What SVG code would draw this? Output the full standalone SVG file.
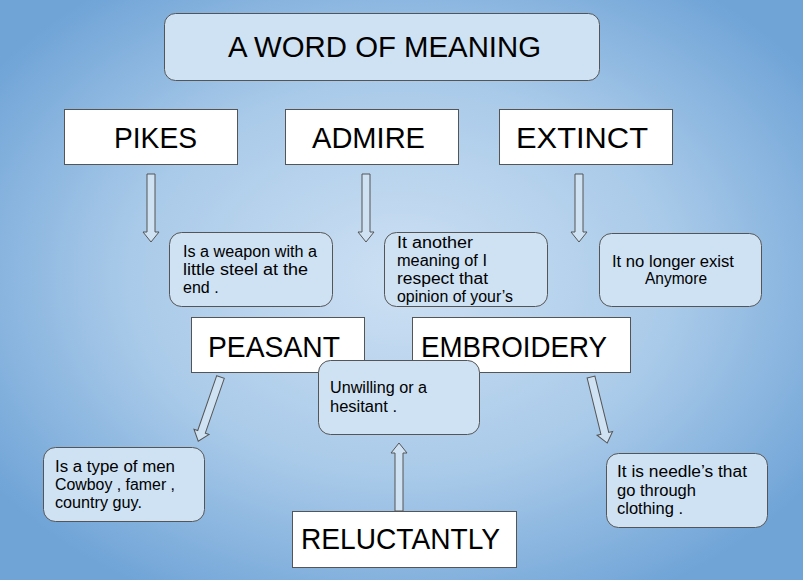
<svg xmlns="http://www.w3.org/2000/svg" width="803" height="580" viewBox="0 0 803 580">
<defs>
<radialGradient id="bg" cx="50%" cy="48%" r="62%">
<stop offset="0" stop-color="#cde0f3"/>
<stop offset="0.55" stop-color="#a9cae9"/>
<stop offset="1" stop-color="#70a4d7"/>
</radialGradient>
<polygon id="arr" points="-4,0 4,0 4,58 8,58 0,68 -8,58 -4,58"/>
</defs>
<style>
.word{fill:#ffffff;stroke:#555;stroke-width:1}
.def{fill:#cfe2f3;stroke:#555;stroke-width:1}
.big{font-family:"Liberation Sans",Arial,sans-serif;font-size:30px;fill:#000}
.sm{font-family:"Liberation Sans",Arial,sans-serif;font-size:16px;fill:#000}
.ar{fill:#cfe2f3;stroke:#555;stroke-width:1}
</style>
<rect x="0" y="0" width="803" height="580" fill="url(#bg)"/>
<g id="title">
<rect class="def" x="164.5" y="13.5" width="435" height="67" rx="11"/>
<text class="big" x="228" y="57" font-size="28" textLength="313" lengthAdjust="spacingAndGlyphs">A WORD OF MEANING</text>
</g>
<g id="connectors">
<use href="#arr" class="ar" transform="translate(151,174)"/>
<use href="#arr" class="ar" transform="translate(366,174)"/>
<use href="#arr" class="ar" transform="translate(579,174)"/>
<use href="#arr" class="ar" transform="translate(220.5,377) rotate(19.1)"/>
<use href="#arr" class="ar" transform="translate(591,377) rotate(-13.8)"/>
<use href="#arr" class="ar" transform="translate(399,511) rotate(180)"/>
</g>
<g id="pikes">
<rect class="word" x="64.5" y="109.5" width="173" height="55"/>
<text class="big" x="114" y="148" textLength="83" lengthAdjust="spacingAndGlyphs">PIKES</text>
</g>
<g id="admire">
<rect class="word" x="285.5" y="109.5" width="173" height="55"/>
<text class="big" x="312" y="148" textLength="113" lengthAdjust="spacingAndGlyphs">ADMIRE</text>
</g>
<g id="extinct">
<rect class="word" x="499.5" y="109.5" width="173" height="55"/>
<text class="big" x="516" y="148" textLength="132" lengthAdjust="spacingAndGlyphs">EXTINCT</text>
</g>
<g id="pikes-def">
<rect class="def" x="169.5" y="232.5" width="163" height="74" rx="12"/>
<text class="sm" x="183" y="257" textLength="134" lengthAdjust="spacingAndGlyphs">Is a weapon with a</text>
<text class="sm" x="183" y="275" textLength="125" lengthAdjust="spacingAndGlyphs">little steel at the</text>
<text class="sm" x="183" y="293">end .</text>
</g>
<g id="admire-def">
<rect class="def" x="384.5" y="232.5" width="163" height="74" rx="12"/>
<text class="sm" x="397" y="248" textLength="76" lengthAdjust="spacingAndGlyphs">It another</text>
<text class="sm" x="397" y="266" textLength="90" lengthAdjust="spacingAndGlyphs">meaning of I</text>
<text class="sm" x="397" y="284" textLength="91" lengthAdjust="spacingAndGlyphs">respect that</text>
<text class="sm" x="397" y="302" textLength="116" lengthAdjust="spacingAndGlyphs">opinion of your’s</text>
</g>
<g id="extinct-def">
<rect class="def" x="599.5" y="233.5" width="162" height="73" rx="12"/>
<text class="sm" x="612" y="267" textLength="122" lengthAdjust="spacingAndGlyphs">It no longer exist</text>
<text class="sm" x="645" y="284" textLength="62" lengthAdjust="spacingAndGlyphs">Anymore</text>
</g>
<g id="peasant">
<rect class="word" x="191.5" y="317.5" width="173" height="55"/>
<text class="big" x="208" y="357" textLength="132" lengthAdjust="spacingAndGlyphs">PEASANT</text>
</g>
<g id="embroidery">
<rect class="word" x="412.5" y="317.5" width="218" height="55"/>
<text class="big" x="421" y="357" textLength="186" lengthAdjust="spacingAndGlyphs">EMBROIDERY</text>
</g>
<g id="reluctantly-def">
<rect class="def" x="318.5" y="360.5" width="161" height="74" rx="12"/>
<text class="sm" x="330" y="393" textLength="97" lengthAdjust="spacingAndGlyphs">Unwilling or a</text>
<text class="sm" x="330" y="412" textLength="67" lengthAdjust="spacingAndGlyphs">hesitant .</text>
</g>
<g id="peasant-def">
<rect class="def" x="43.5" y="447.5" width="161" height="74" rx="12"/>
<text class="sm" x="55" y="472" textLength="120" lengthAdjust="spacingAndGlyphs">Is a type of men</text>
<text class="sm" x="55" y="490" textLength="120" lengthAdjust="spacingAndGlyphs">Cowboy , famer ,</text>
<text class="sm" x="55" y="508" textLength="87" lengthAdjust="spacingAndGlyphs">country guy.</text>
</g>
<g id="embroidery-def">
<rect class="def" x="606.5" y="453.5" width="161" height="74" rx="12"/>
<text class="sm" x="617" y="477" textLength="130" lengthAdjust="spacingAndGlyphs">It is needle’s that</text>
<text class="sm" x="617" y="496" textLength="79" lengthAdjust="spacingAndGlyphs">go through</text>
<text class="sm" x="617" y="514" textLength="66" lengthAdjust="spacingAndGlyphs">clothing .</text>
</g>
<g id="reluctantly">
<rect class="word" x="292.5" y="511.5" width="224" height="56"/>
<text class="big" x="301" y="549" textLength="199" lengthAdjust="spacingAndGlyphs">RELUCTANTLY</text>
</g>
</svg>
